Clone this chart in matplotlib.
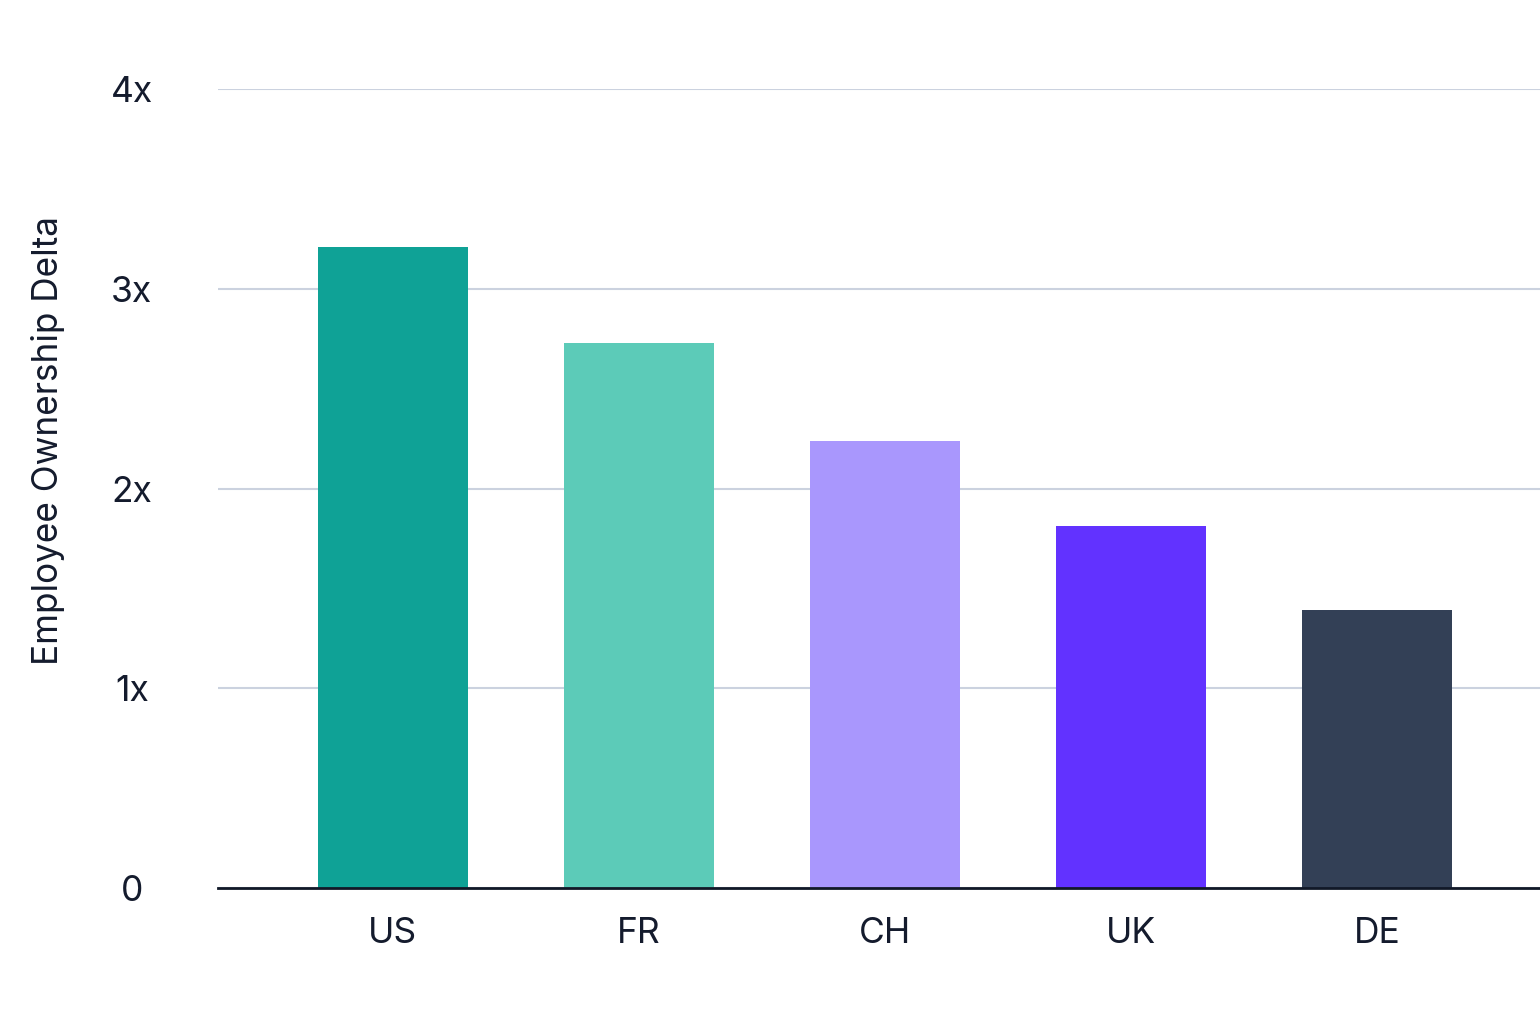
import matplotlib.pyplot as plt

countries = ["US", "FR", "CH", "UK", "DE"]
delta = [3.21, 2.73, 2.24, 1.81, 1.39]
bar_colors = ["#0FA296", "#5CCBB8", "#A997FD", "#6232FF", "#334056"]
y_ticks = [0, 1, 2, 3, 4]
y_tick_labels = ["0", "1x", "2x", "3x", "4x"]

text_color = "#141B2D"
plt.rcParams["font.family"] = ["Inter", "DejaVu Sans"]

fig = plt.figure(figsize=(15.4, 10.18), dpi=100)
ax = fig.add_axes([218 / 1540, 130 / 1018, 1 - 218 / 1540, (889 - 90) / 1018])

x = range(len(countries))
ax.bar(x, delta, width=0.61, color=bar_colors, zorder=3)

ax.set_xlim(-0.711, 4.663)
ax.set_ylim(0, 4)
ax.set_xticks(list(x))
ax.set_xticklabels(countries)
ax.set_yticks(y_ticks)
ax.set_yticklabels(y_tick_labels, ha="center")

ax.tick_params(axis="x", length=0, pad=21, labelsize=25.5, labelcolor=text_color)
ax.tick_params(axis="y", length=0, pad=62, labelsize=25.5, labelcolor=text_color)

ax.grid(axis="y", color="#CBD2DF", linewidth=1.5, zorder=0)
ax.set_axisbelow(True)

for side in ["top", "right", "left"]:
    ax.spines[side].set_visible(False)
ax.spines["bottom"].set_color("#111827")
ax.spines["bottom"].set_linewidth(2)
ax.spines["bottom"].set_zorder(4)

ax.set_ylabel("Employee Ownership Delta", fontsize=25.3, color=text_color)
ax.yaxis.set_label_coords(-0.116, 0.56)

fig.savefig("out.png", dpi=100, facecolor="white")
